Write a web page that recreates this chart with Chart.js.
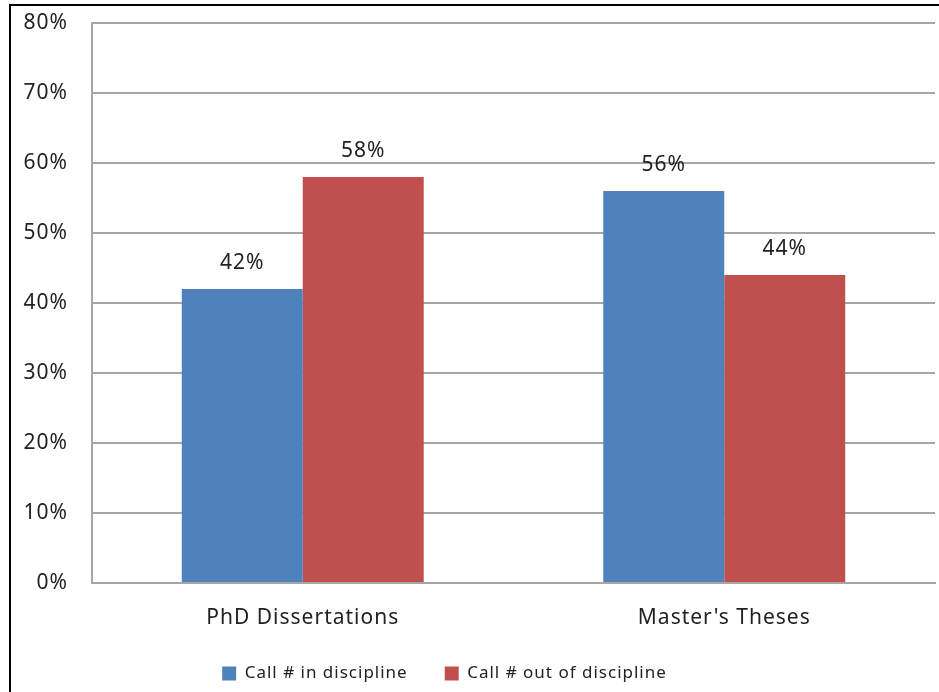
<!DOCTYPE html>
<html>
<head>
<meta charset="utf-8">
<script src="https://cdn.jsdelivr.net/npm/chart.js@4"></script>
<style>
  html, body { margin: 0; padding: 0; background: #fff; }
  #wrap { position: relative; width: 939px; height: 692px; overflow: hidden; }
  #frame { position: absolute; left: 9px; top: 4px; width: 940px; height: 700px;
           border-left: 2px solid #000; border-top: 2px solid #000; box-sizing: border-box; }
  canvas { position: absolute; left: 0; top: 0; }
</style>
</head>
<body>
<div id="wrap">
  <div id="frame"></div>
  <canvas id="chart" width="939" height="692"></canvas>
</div>
<script>
// Date
const categories = ['PhD Dissertations', "Master's Theses"];
const inDiscipline = [42, 56];
const outDiscipline = [58, 44];
const seriesNames = ['Call # in discipline', 'Call # out of discipline'];

const FONT = '"Noto Sans", sans-serif';
const TEXT = '#222';

// spatiere intre litere, ca in original
const spacing = {
  id: 'spacing',
  beforeUpdate(chart) { chart.ctx.letterSpacing = '1px'; },
  beforeDraw(chart) { chart.ctx.letterSpacing = '1px'; },
  // legenda e putin mutata spre stanga in original
  afterLayout(chart) {
    chart.legend.left -= 28;
    chart.legend.right -= 28;
  }
};

// etichete deasupra barelor
const valueLabels = {
  id: 'valueLabels',
  afterDatasetsDraw(chart) {
    const ctx = chart.ctx;
    ctx.save();
    ctx.font = '21px ' + FONT;
    ctx.fillStyle = TEXT;
    ctx.textAlign = 'center';
    ctx.textBaseline = 'middle';
    chart.data.datasets.forEach((ds, i) => {
      chart.getDatasetMeta(i).data.forEach((bar, j) => {
        ctx.fillText(ds.data[j] + '%', bar.x, bar.y - 26);
      });
    });
    ctx.restore();
  }
};

new Chart(document.getElementById('chart'), {
  type: 'bar',
  data: {
    labels: categories,
    datasets: [
      { label: seriesNames[0], data: inDiscipline, backgroundColor: '#4F81BD' },
      { label: seriesNames[1], data: outDiscipline, backgroundColor: '#C0504D' }
    ]
  },
  options: {
    responsive: false,
    animation: false,
    devicePixelRatio: 1,
    layout: { padding: { left: 10, top: 23, right: 4, bottom: 0 } },
    datasets: { bar: { categoryPercentage: 0.574, barPercentage: 1 } },
    scales: {
      x: {
        grid: { display: false, drawTicks: false },
        border: { color: '#a6a6a6', width: 2 },
        ticks: { color: TEXT, font: { family: FONT, size: 21 }, padding: 22 },
        afterFit(scale) { scale.height = 45; }
      },
      y: {
        min: 0, max: 80,
        // tick-uri invizibile, doar ca distanta pana la etichete
        grid: { color: '#a6a6a6', lineWidth: 2, drawTicks: true, tickLength: 24, tickColor: 'rgba(0,0,0,0)' },
        border: { color: '#a6a6a6', width: 2 },
        ticks: {
          stepSize: 10, color: TEXT, padding: 0,
          font: { family: FONT, size: 21 },
          callback: v => v + '%'
        },
        afterFit(scale) { scale.width = 82; }
      }
    },
    plugins: {
      legend: {
        position: 'bottom',
        labels: {
          boxWidth: 14, boxHeight: 14, padding: 37,
          color: TEXT, font: { family: FONT, size: 17 }
        }
      },
      tooltip: { enabled: false }
    }
  },
  plugins: [spacing, valueLabels]
});
</script>
</body>
</html>
